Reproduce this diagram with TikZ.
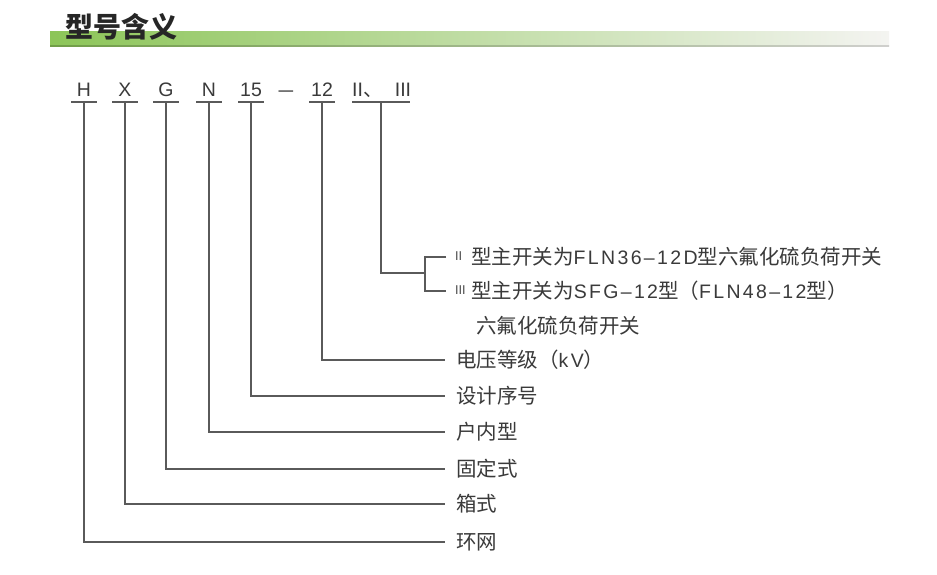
\documentclass[tikz,border=0pt]{standalone}
\usepackage{fontspec}
\setmainfont{Liberation Sans}
\newfontfamily\cjk{Noto Sans CJK SC}
\newfontfamily\latsp{Liberation Sans}[LetterSpace=12]
\usetikzlibrary{calc}
\definecolor{txt}{HTML}{3A3A3A}
\definecolor{ln}{HTML}{5A5A5A}
\definecolor{gA}{HTML}{8CC558}
\definecolor{gB}{HTML}{C8E2A6}
\definecolor{gC}{HTML}{F4F4F1}
\newcommand{\smallroman}[1]{\raisebox{4.5pt}{\fontsize{12}{12}\selectfont #1}}
\newcommand{\lat}[1]{{\fontsize{19.5}{22}\selectfont\latsp #1}}
\begin{document}
\begin{tikzpicture}[x=1pt,y=-1pt,
  code/.style={anchor=base,inner sep=0,text=txt,font=\fontsize{19.5}{20}\selectfont},
  lab/.style={anchor=west,inner xsep=11pt,inner ysep=0,text=txt,font=\cjk\fontsize{20.5}{22}\selectfont},
  conn/.style={draw=ln,line width=1.1pt},
  uline/.style={draw=ln,line width=1.1pt}]
\useasboundingbox[fill=white] (0,0) rectangle (937,575);
% title bar
\shade[left color=gA,middle color=gB,right color=gC,shading angle=90] (50,32) rectangle (889,46);
\shade[left color=gA!80!black,right color=gC!85!black,shading angle=90] (50,45.2) rectangle (889,46.6);
\node[anchor=west,inner sep=0,text=black!85,font=\cjk\bfseries\fontsize{28}{30}\selectfont] (title) at (65,27) {型号含义};
% code row
\node[code] (cH) at (84,97) {H};
\node[code] (cX) at (125,97) {X};
\node[code] (cG) at (166,97) {G};
\node[code] (cN) at (209,97) {N};
\node[code] (c15) at (251,97) {15};
\node[code] (cd) at (286,97) {\scalebox{0.75}[1]{—}};
\node[code] (c12) at (322,97) {12};
\node[code] (cII) at (357.5,97) {II};
\node[code] (cdun) at (373,97) {\cjk 、};
\node[code] (cIII) at (403,97) {III};
% underline centres
\coordinate (uH) at (84,102);
\coordinate (uX) at (125,102);
\coordinate (uG) at (166,102);
\coordinate (uN) at (209,102);
\coordinate (u15) at (251,102);
\coordinate (u12) at (322,102);
\coordinate (uR) at (381,102);
\foreach \u in {uH,uX,uG,uN,u15,u12}{
  \draw[uline] ($(\u)+(-13,0)$) -- ($(\u)+(13,0)$);
}
\draw[uline] (352,102) -- (410,102);
% labels
\node[lab,inner xsep=9pt] (l1) at (446,257) {\smallroman{II}\hspace{9pt}型主开关为\lat{FLN36–12D}型六氟化硫负荷开关};
\node[lab,inner xsep=9pt] (l2) at (446,291) {\smallroman{III}\hspace{5.5pt}型主开关为\lat{SFG–12}型（\lat{FLN48–12}型）};
\node[lab,inner xsep=0pt] (l3) at (476,326) {六氟化硫负荷开关};
\node[lab] (l12) at (445,360) {电压等级（\lat{kV}）};
\node[lab] (l15) at (445,396) {设计序号};
\node[lab] (lN) at (445,432) {户内型};
\node[lab] (lG) at (445,469) {固定式};
\node[lab] (lX) at (445,504) {箱式};
\node[lab] (lH) at (445,542) {环网};
% connectors
\coordinate (b) at (425,273);
\draw[conn] (uR) |- (b);
\draw[conn] (l1.west) -| (b) |- (l2.west);
\draw[conn] (u12) |- (l12.west);
\draw[conn] (u15) |- (l15.west);
\draw[conn] (uN) |- (lN.west);
\draw[conn] (uG) |- (lG.west);
\draw[conn] (uX) |- (lX.west);
\draw[conn] (uH) |- (lH.west);
\end{tikzpicture}
\end{document}
